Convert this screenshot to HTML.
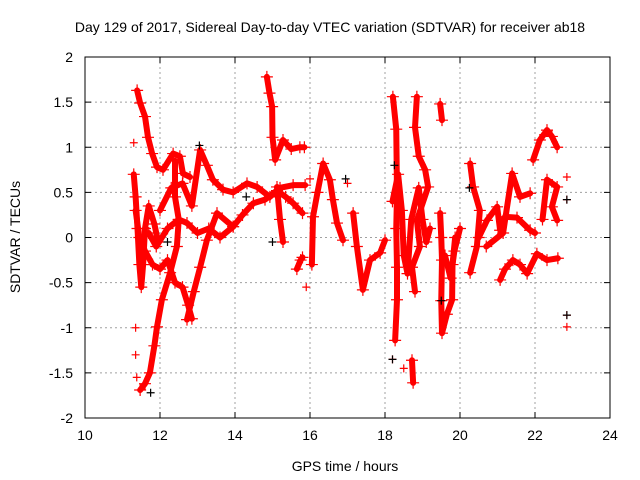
<!DOCTYPE html>
<html><head><meta charset="utf-8"><style>
body{margin:0;background:#fff}
svg{display:block;font-family:"Liberation Sans",sans-serif}
</style></head><body>
<svg id="chart" width="640" height="480">
<rect width="640" height="480" fill="#fff"/>
<text x="330" y="32" font-size="14" text-anchor="middle">Day 129 of 2017, Sidereal Day-to-day VTEC variation (SDTVAR) for receiver ab18</text>
<text x="345" y="471" font-size="14" text-anchor="middle">GPS time / hours</text>
<text transform="translate(20,237) rotate(-90)" font-size="14" text-anchor="middle">SDTVAR / TECUs</text>
<g id="grid"></g><g id="axes"></g><g id="marks"></g>
<rect x="85" y="57" width="525" height="361" fill="none" stroke="#000"/>
</svg>
<script>
const xTicks=[10,12,14,16,18,20,22,24];
const yTicks=[-2,-1.5,-1,-0.5,0,0.5,1,1.5,2];
const yTickLabels=["-2","-1.5","-1","-0.5","0","0.5","1","1.5","2"];
// red traces: [hour, TECU]
const traceA=[[11.39,1.63],[11.47,1.49],[11.6,1.34],[11.68,1.11],[11.79,0.93],[11.92,0.78],[12.08,0.75],[12.35,0.93],[12.53,0.9],[12.61,0.71],[12.8,0.67]];
const traceB=[[11.47,-1.69],[11.6,-1.62],[11.73,-1.5],[11.85,-1.2],[11.92,-0.99],[12.05,-0.69],[12.27,-0.39],[12.45,-0.1],[12.5,0.2],[12.4,0.45],[12.4,0.85]];
const traceC=[[11.35,0.3],[11.45,0.0],[11.6,-0.15],[11.8,-0.3],[12.0,-0.35],[12.2,-0.25],[12.4,-0.5],[12.6,-0.55],[12.75,-0.75],[12.85,-0.9]];
const traceD=[[12.72,-0.91],[12.9,-0.6],[13.07,-0.33],[13.25,-0.03],[13.52,0.27],[13.95,0.12],[14.2,0.25],[14.49,0.38],[14.8,0.42],[15.12,0.52],[15.35,0.45],[15.55,0.38],[15.8,0.27]];
const traceE=[[11.7,0.05],[11.9,-0.1],[12.2,0.1],[12.5,0.2],[12.72,0.16],[13.0,0.05],[13.3,0.1],[13.6,0.0],[13.95,0.12]];
const traceF=[[12.0,0.3],[12.3,0.55],[12.6,0.6],[12.85,0.35],[13.07,0.97],[13.25,0.8],[13.41,0.64],[13.68,0.53],[13.95,0.5],[14.32,0.6],[14.59,0.56],[14.93,0.45],[15.2,0.55],[15.55,0.58],[15.87,0.58]];
const traceG=[[14.85,1.78],[14.92,1.6],[14.99,1.45],[15.0,1.11],[15.07,0.86],[15.28,1.08],[15.5,0.98],[15.73,1.0],[15.85,1.0]];
const traceH=[[15.12,0.56],[15.2,0.2],[15.28,-0.05]];
const traceI=[[15.65,-0.35],[15.75,-0.25],[15.8,-0.22]];
const traceJ=[[16.05,-0.3],[16.08,0.23],[16.2,0.5],[16.35,0.82],[16.53,0.64],[16.61,0.42],[16.72,0.16],[16.88,-0.03]];
const traceK=[[17.15,0.27],[17.25,-0.1],[17.41,-0.58],[17.6,-0.25],[17.87,-0.17],[18.0,-0.03]];
const traceL=[[18.21,1.56],[18.3,1.2],[18.32,0.49],[18.3,0.1],[18.32,-0.33],[18.32,-0.69],[18.27,-1.14]];
const traceM=[[18.85,1.56],[18.8,1.22],[18.9,0.9],[19.07,0.75],[19.15,0.56],[18.85,0.19],[18.93,-0.1],[18.72,-0.33],[18.8,-0.6]];
const traceN=[[18.72,-1.36],[18.75,-1.61]];
const traceO=[[19.47,1.48],[19.52,1.3]];
const traceP=[[19.47,0.27],[19.5,0.0],[19.52,-0.25],[19.5,-0.7],[19.52,-1.06],[19.65,-0.85],[19.79,-0.69],[19.8,-0.3],[19.87,0.0]];
const traceQ=[[20.27,0.82],[20.35,0.56],[20.53,0.3],[20.45,-0.1],[20.27,-0.39]];
const traceR=[[20.5,0.0],[20.72,0.19],[20.99,0.34],[21.07,0.08],[21.2,0.23],[21.52,0.22],[21.87,0.08],[22.0,0.05]];
const traceS=[[21.07,-0.47],[21.2,-0.35],[21.41,-0.25],[21.6,-0.3],[21.79,-0.4],[22.05,-0.18],[22.32,-0.25],[22.61,-0.23]];
const traceT=[[20.7,-0.1],[21.15,0.05],[21.39,0.71],[21.6,0.45],[21.87,0.49]];
const traceU=[[21.95,0.86],[22.13,1.08],[22.32,1.19],[22.45,1.12],[22.59,1.0]];
const traceV=[[22.2,0.2],[22.32,0.64],[22.59,0.56],[22.45,0.34],[22.59,0.19]];
const traceW=[[11.3,0.7],[11.35,0.45],[11.4,0.1],[11.45,-0.3],[11.5,-0.55],[11.55,-0.3],[11.6,0.1],[11.7,0.35],[11.85,0.15],[11.95,-0.05]];
const traceX=[[18.2,0.4],[18.35,0.7],[18.45,0.3],[18.5,-0.2],[18.6,-0.4],[18.7,0.2],[18.9,0.55],[19.0,0.2],[19.1,-0.05],[19.2,0.1]];
const traceY=[[19.6,-0.2],[19.75,-0.45],[19.85,-0.15],[20.0,0.1]];
const isolatedRed=[[22.85,0.67],[22.85,0.42],[22.85,-0.86],[22.85,-0.99],[11.3,1.05],[11.35,-1.0],[11.35,-1.3],[11.38,-1.55],[15.9,-0.55],[16.0,0.65],[17.0,0.6],[18.2,-1.35],[18.5,-1.45]];
const blackPts=[[11.75,-1.72],[13.05,1.02],[14.3,0.45],[15.0,-0.05],[16.95,0.65],[18.25,0.8],[18.2,-1.35],[19.5,-0.7],[20.25,0.55],[22.85,0.42],[22.85,-0.86],[12.2,-0.05]];
const traces=[traceA,traceB,traceC,traceD,traceE,traceF,traceG,traceH,traceI,traceJ,traceK,traceL,traceM,traceN,traceO,traceP,traceQ,traceR,traceS,traceT,traceU,traceV,traceW,traceX,traceY];

const X=h=>85+(h-10)*37.5;
const Y=v=>237.5-v*90.25;
const NS="http://www.w3.org/2000/svg";
const grid=document.getElementById('grid'),axes=document.getElementById('axes'),marks=document.getElementById('marks');
function mk(tag,at,parent){const e=document.createElementNS(NS,tag);for(const k in at)e.setAttribute(k,at[k]);parent.appendChild(e);return e;}
xTicks.forEach(t=>{
  const x=X(t);
  if(t>10&&t<24){const g=mk('line',{x1:x,x2:x,y1:57,y2:418,stroke:'#a0a0a0','stroke-dasharray':'2,3'},grid);
  
  }
  mk('line',{x1:x,x2:x,y1:418,y2:412,stroke:'#000'},axes);
  mk('line',{x1:x,x2:x,y1:57,y2:63,stroke:'#000'},axes);
  const l=mk('text',{x:x,y:440,'font-size':14,'text-anchor':'middle'},axes);l.textContent=t;
  
  
});
yTicks.forEach((t,i)=>{
  const y=Y(t);
  if(t>-2&&t<2){const g=mk('line',{x1:85,x2:610,y1:y,y2:y,stroke:'#a0a0a0','stroke-dasharray':'2,3'},grid);
  
  }
  mk('line',{x1:85,x2:91,y1:y,y2:y,stroke:'#000'},axes);
  mk('line',{x1:604,x2:610,y1:y,y2:y,stroke:'#000'},axes);
  const l=mk('text',{x:73,y:y+5,'font-size':14,'text-anchor':'end'},axes);l.textContent=yTickLabels[i];
  
  
});
function plus(p,c,parent,s){const x=X(p[0]),y=Y(p[1]);
  const e=mk('path',{d:`M${x-s} ${y}H${x+s}M${x} ${y-s}V${y+s}`,stroke:c,'stroke-width':1.2},parent);
  
  }
traces.forEach(tr=>{
  const pl=mk('polyline',{points:tr.map(p=>X(p[0])+','+Y(p[1])).join(' '),fill:'none',stroke:'#f00','stroke-width':6,'stroke-linejoin':'round','stroke-linecap':'round'},marks);
  
  
  tr.forEach(p=>plus(p,'#f00',marks,6));
});
isolatedRed.forEach(p=>plus(p,'#f00',marks,4));
blackPts.forEach(p=>plus(p,'#000',marks,4));
</script>
</body></html>
